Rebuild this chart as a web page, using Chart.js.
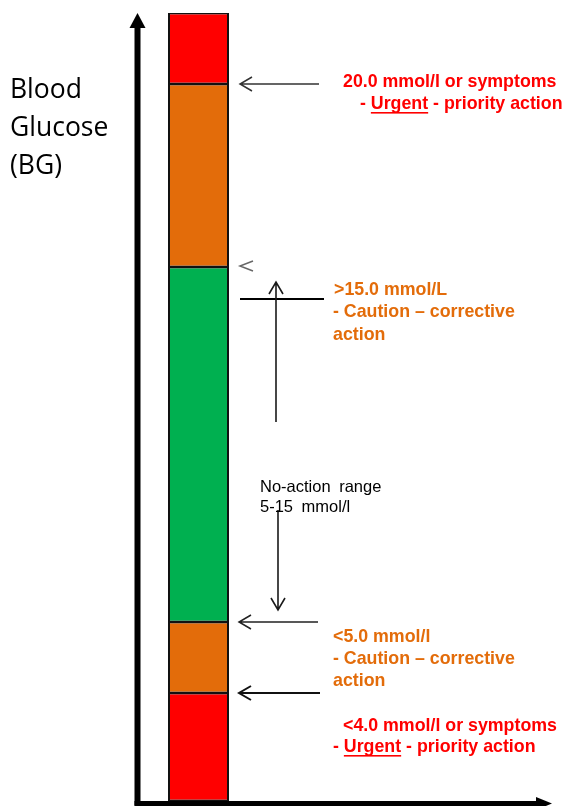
<!DOCTYPE html>
<html>
<head>
<meta charset="utf-8">
<title>Blood glucose action ranges</title>
<script src="https://cdn.jsdelivr.net/npm/chart.js@4.4.1/dist/chart.umd.min.js"></script>
<style>
  html, body { margin: 0; padding: 0; background: #fff; }
  canvas { display: block; }
</style>
</head>
<body>
<canvas id="bgChart" width="569" height="806"></canvas>
<script>
// Bands of the BG column, bottom to top (diagram units - the picture is not to scale)
const categories = ['BG'];
const bandNames = ['Urgent (low)', 'Caution (low)', 'No-action', 'Caution (high)', 'Urgent (high)'];
const bandHeights = [108, 71, 355, 183, 71];
const bandColors = ['#FF0000', '#E36C0A', '#00B050', '#E36C0A', '#FF0000'];

const axisTitle = ['Blood', 'Glucose', '(BG)'];
const highUrgentNote = ['20.0 mmol/l or symptoms', '- ', 'Urgent', ' - priority action'];
const highCautionNote = ['>15.0 mmol/L', '- Caution \u2013 corrective', 'action'];
const noActionNote = ['No-action range', '5-15 mmol/l'];
const lowCautionNote = ['<5.0 mmol/l', '- Caution \u2013 corrective', 'action'];
const lowUrgentNote = ['<4.0 mmol/l or symptoms', '- ', 'Urgent', ' - priority action'];

const RED = '#FF0000';
const ORANGE = '#E36C0A';
const BOLD = 'bold 17.8px "Liberation Sans", Arial, sans-serif';

// cumulative tops of each band
const bandTops = [];
bandHeights.reduce((sum, h) => { bandTops.push(sum + h); return sum + h; }, 0);
const total = bandTops[bandTops.length - 1];

function arrowLeft(ctx, x1, x2, y, width, color) {
    ctx.save();
    ctx.strokeStyle = color;
    ctx.lineWidth = width;
    ctx.beginPath();
    ctx.moveTo(x2, y);
    ctx.lineTo(x1, y);
    ctx.moveTo(x1 + 12, y - 7);
    ctx.lineTo(x1, y);
    ctx.lineTo(x1 + 12, y + 7);
    ctx.stroke();
    ctx.restore();
}

function arrowVertical(ctx, x, yFrom, yTo) {
    const dir = yTo > yFrom ? 1 : -1;
    ctx.save();
    ctx.strokeStyle = '#1a1a1a';
    ctx.lineWidth = 1.6;
    ctx.beginPath();
    ctx.moveTo(x, yFrom);
    ctx.lineTo(x, yTo);
    ctx.moveTo(x - 7, yTo - dir * 12);
    ctx.lineTo(x, yTo);
    ctx.lineTo(x + 7, yTo - dir * 12);
    ctx.stroke();
    ctx.restore();
}

// "- Urgent - priority action" with Urgent underlined
function urgentLine(ctx, parts, x, y) {
    ctx.font = BOLD;
    ctx.fillStyle = RED;
    let cx = x;
    parts.forEach((p, i) => {
        ctx.fillText(p, cx, y);
        const w = ctx.measureText(p).width;
        if (i === 1) {
            ctx.fillRect(cx, y + 8, w, 1.6);
        }
        cx += w;
    });
}

const diagramPlugin = {
    id: 'diagram',
    afterDatasetsDraw(chart) {
        const ctx = chart.ctx;
        const area = chart.chartArea;
        const y = chart.scales.y;
        const ax = area.left + 0.5;

        ctx.save();
        // axes with arrow heads
        ctx.fillStyle = '#000';
        ctx.fillRect(ax - 3, 26, 6, 803 - 26 + 2.5);
        ctx.beginPath();
        ctx.moveTo(ax, 13);
        ctx.lineTo(ax - 8, 28);
        ctx.lineTo(ax + 8, 28);
        ctx.closePath();
        ctx.fill();
        ctx.fillRect(ax - 3, 801, 538 - ax + 3, 5);
        ctx.beginPath();
        ctx.moveTo(552, 803.5);
        ctx.lineTo(536, 797);
        ctx.lineTo(536, 810);
        ctx.closePath();
        ctx.fill();

        // axis title
        ctx.font = '26.5px "Open Sans", sans-serif';
        ctx.textBaseline = 'middle';
        ctx.fillStyle = '#000';
        axisTitle.forEach((t, i) => ctx.fillText(t, 10, 90 + i * 38));

        // boundary arrows
        const yHighRed = y.getPixelForValue(bandTops[3]);
        const yHighOrange = y.getPixelForValue(bandTops[2]);
        const yLowOrange = y.getPixelForValue(bandTops[1]);
        const yLowRed = y.getPixelForValue(bandTops[0]);
        arrowLeft(ctx, 240, 319, yHighRed, 1.5, '#333');
        arrowLeft(ctx, 239, 318, yLowOrange, 1.5, '#222');
        arrowLeft(ctx, 239, 320, yLowRed, 2, '#111');

        // small chevron at the orange/green boundary
        ctx.strokeStyle = '#666';
        ctx.lineWidth = 1.5;
        ctx.beginPath();
        ctx.moveTo(253, yHighOrange - 6);
        ctx.lineTo(240, yHighOrange - 1);
        ctx.lineTo(253, yHighOrange + 4);
        ctx.stroke();

        // 15 mmol line and no-action arrows
        ctx.strokeStyle = '#000';
        ctx.lineWidth = 2;
        ctx.beginPath();
        ctx.moveTo(240, 299);
        ctx.lineTo(324, 299);
        ctx.stroke();
        arrowVertical(ctx, 276, 422, 282);
        arrowVertical(ctx, 278, 510, 610);

        // notes
        ctx.font = BOLD;
        ctx.fillStyle = RED;
        ctx.fillText(highUrgentNote[0], 343, 82);
        urgentLine(ctx, highUrgentNote.slice(1), 360, 104);

        ctx.font = BOLD;
        ctx.fillStyle = ORANGE;
        highCautionNote.forEach((t, i) => ctx.fillText(t, i === 0 ? 334 : 333, 290 + i * 22.5));
        lowCautionNote.forEach((t, i) => ctx.fillText(t, 333, 637 + i * 22));

        ctx.fillStyle = RED;
        ctx.fillText(lowUrgentNote[0], 343, 726);
        urgentLine(ctx, lowUrgentNote.slice(1), 333, 747);

        ctx.font = '16.5px "Liberation Sans", Arial, sans-serif';
        ctx.fillStyle = '#000';
        ctx.wordSpacing = '4px';
        noActionNote.forEach((t, i) => ctx.fillText(t, 260, 487 + i * 20));
        ctx.wordSpacing = '0px';
        ctx.restore();
    }
};

new Chart(document.getElementById('bgChart').getContext('2d'), {
    type: 'bar',
    data: {
        labels: categories,
        datasets: bandHeights.map((h, i) => ({
            label: bandNames[i],
            data: [h],
            backgroundColor: bandColors[i],
            borderColor: '#111',
            borderWidth: { top: 1.5, bottom: 1.5, left: 2, right: 2 },
            borderSkipped: false,
            categoryPercentage: 1,
            barPercentage: 0.496
        }))
    },
    options: {
        responsive: false,
        animation: false,
        layout: {
            padding: { left: 137, right: 309, top: 13, bottom: 5 }
        },
        plugins: {
            legend: { display: false },
            tooltip: { enabled: false }
        },
        scales: {
            x: { display: false, stacked: true },
            y: { display: false, stacked: true, min: 0, max: total }
        }
    },
    plugins: [diagramPlugin]
});
</script>
</body>
</html>
